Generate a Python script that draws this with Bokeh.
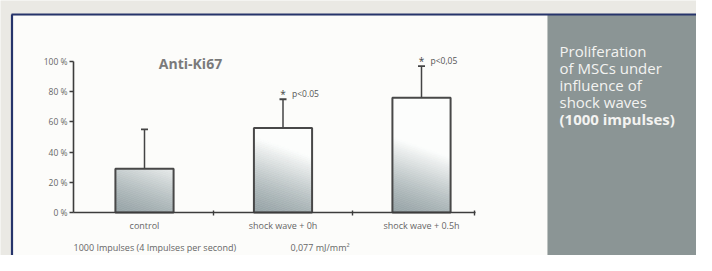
import numpy as np
from bokeh.plotting import figure
from bokeh.models import Range1d, LinearAxis, FixedTicker, Whisker, TeeHead, ColumnDataSource
from bokeh.core.properties import value
from bokeh.embed import file_html
from bokeh.resources import INLINE

# ---- data ----
categories = ["control", "shock wave + 0h", "shock wave + 0.5h"]
means = [29, 56, 76]
errors = [26, 19, 21]
stars = ["", "*", "*"]
p_labels = ["", "p<0.05", "p<0,05"]
y_ticks = [0, 20, 40, 60, 80, 100]
y_tick_labels = ["0 %", "20 %", "40 %", "60 %", "80 %", "100 %"]
title_text = "Anti-Ki67"
footnote_left = "1000 Impulses (4 Impulses per second)"
footnote_right = "0,077 mJ/mm²"
panel_lines = ["Proliferation", "of MSCs under", "influence of", "shock waves"]
panel_last = "(1000 impulses)"

FONT_NAME = "Open Sans"
FONT = value(FONT_NAME)

# ---- canvas geometry (pixels) ----
W, H = 696, 255
X0, XS = 144.0, 138.5   # px of category 0, px per category
Y0, YS = 212.0, 1.51    # px of 0 %, px per %


def fx(px):
    return (px - X0) / XS


def fy(py):
    return (Y0 - py) / YS


p = figure(width=W, height=H, output_backend="svg", toolbar_location=None, tools="",
           x_range=Range1d(fx(0), fx(W)), y_range=Range1d(fy(H), fy(0)),
           x_axis_location=None, y_axis_location=None, min_border=0)
p.xgrid.visible = False
p.ygrid.visible = False
p.outline_line_color = None
p.background_fill_color = "#eae9e4"
p.border_fill_color = "#eae9e4"

# ---- decorations: white sheet, blue frame, grey side panel ----
p.quad(left=fx(12), right=fx(547), top=fy(15), bottom=fy(H), fill_color="#fcfcfa", line_color=None)
p.quad(left=fx(547), right=fx(W), top=fy(14), bottom=fy(H), fill_color="#8b9595", line_color=None)
p.line(x=[fx(11.5), fx(11.5)], y=[fy(14), fy(H)], line_color="#26346b", line_width=2.2)
p.line(x=[fx(11), fx(W)], y=[fy(14), fy(14)], line_color="#26346b", line_width=2.2)


# ---- bars with diagonal gradient fill (grey lower-left -> white upper-right) ----
def clip(poly, a, b, c):
    """Keep the part of polygon where a*u + b*v <= c."""
    out = []
    n = len(poly)
    for i in range(n):
        P, Q = poly[i], poly[(i + 1) % n]
        fp = a * P[0] + b * P[1] - c
        fq = a * Q[0] + b * Q[1] - c
        if fp <= 0:
            out.append(P)
        if (fp < 0 < fq) or (fq < 0 < fp):
            t = fp / (fp - fq)
            out.append((P[0] + t * (Q[0] - P[0]), P[1] + t * (Q[1] - P[1])))
    return out


x = np.arange(len(categories), dtype=float)
bar_w = 0.42
dark = np.array([150, 163, 166], dtype=float)
light = np.array([252, 253, 252], dtype=float)
KU, L, NB = 0.35, 76.0, 40
band_xs, band_ys, band_cols = [], [], []
for xi, m in zip(x, means):
    wpx, hpx = bar_w * XS, m * YS
    rect = [(0, 0), (wpx, 0), (wpx, hpx), (0, hpx)]
    for k in range(NB + 1):
        lo = L * k / NB
        hi = L * (k + 1) / NB if k < NB else 1e9
        poly = clip(rect, -KU, -1.0, -lo)
        poly = clip(poly, KU, 1.0, hi)
        if len(poly) < 3:
            continue
        s = min((k + 0.5) / NB, 1.0) ** 1.3
        c = dark + (light - dark) * s
        band_xs.append([xi - bar_w / 2 + pu / XS for pu, pv in poly])
        band_ys.append([pv / YS for pu, pv in poly])
        band_cols.append("#%02x%02x%02x" % tuple(int(round(t)) for t in c))
p.patches(xs=band_xs, ys=band_ys, fill_color=band_cols, line_color=band_cols, line_width=0.6)

p.vbar(x=x, top=means, width=bar_w, bottom=0, fill_color=None,
       line_color="#484848", line_width=2)

upper = [m + e for m, e in zip(means, errors)]
src = ColumnDataSource(dict(base=x, lower=means, upper=upper))
p.add_layout(Whisker(base="base", lower="lower", upper="upper", source=src, level="overlay",
                     line_color="#444444", line_width=1.5, lower_head=None,
                     upper_head=TeeHead(size=7, line_color="#444444", line_width=1.8)))

# ---- axes ----
yaxis = LinearAxis(fixed_location=fx(73), bounds=(0, 100),
                   ticker=FixedTicker(ticks=y_ticks),
                   major_label_overrides={t: l for t, l in zip(y_ticks, y_tick_labels)},
                   major_tick_out=4, major_tick_in=0, minor_tick_out=0, minor_tick_in=0,
                   axis_line_color="#3c3c3c", axis_line_width=1.6,
                   major_tick_line_color="#3c3c3c", major_tick_line_width=1.4,
                   major_label_text_font=FONT_NAME, major_label_text_font_size="8.5px",
                   major_label_text_color="#666666", major_label_standoff=2)
p.add_layout(yaxis, "left")

xaxis = LinearAxis(fixed_location=0, bounds=(fx(73), fx(475)),
                   ticker=FixedTicker(ticks=list(x), minor_ticks=[0.5, 1.5, fx(474)]),
                   major_label_overrides={float(i): c for i, c in zip(x, categories)},
                   major_tick_out=0, major_tick_in=0, minor_tick_out=3, minor_tick_in=2,
                   axis_line_color="#3c3c3c", axis_line_width=1.6,
                   minor_tick_line_color="#3c3c3c", minor_tick_line_width=1.4,
                   major_label_text_font=FONT_NAME, major_label_text_font_size="9px",
                   major_label_text_color="#666666", major_label_standoff=3)
p.add_layout(xaxis, "below")

# ---- significance marks ----
p.text(x=x, y=upper, text=stars, text_align="center", text_baseline="middle",
       y_offset=-5, text_font=FONT, text_font_size="10px", text_color="#444444")
p.text(x=x, y=upper, text=p_labels, text_align="left", text_baseline="middle",
       x_offset=9, y_offset=-6, text_font=FONT, text_font_size="8.5px", text_color="#555555")

# ---- titles and notes ----
p.text(x=[fx(190)], y=[fy(63)], text=[title_text], text_align="center", text_baseline="middle",
       text_font=FONT, text_font_style="bold", text_font_size="14px", text_color="#7a7a7a")
p.text(x=[fx(73)], y=[fy(247)], text=[footnote_left], text_align="left", text_baseline="middle",
       text_font=FONT, text_font_size="9px", text_color="#666666")
p.text(x=[fx(290)], y=[fy(247)], text=[footnote_right], text_align="left", text_baseline="middle",
       text_font=FONT, text_font_size="9px", text_color="#666666")

# ---- side panel text ----
p.text(x=[fx(559)] * len(panel_lines), y=[fy(50 + 17 * i) for i in range(len(panel_lines))],
       text=panel_lines, text_align="left", text_baseline="middle",
       text_font=FONT, text_font_size="15px", text_color="#f3f3f1")
p.text(x=[fx(559)], y=[fy(50 + 17 * len(panel_lines))], text=[panel_last],
       text_align="left", text_baseline="middle",
       text_font=FONT, text_font_style="bold", text_font_size="15px", text_color="#f3f3f1")

open("out.html", "w").write(file_html(p, INLINE))
